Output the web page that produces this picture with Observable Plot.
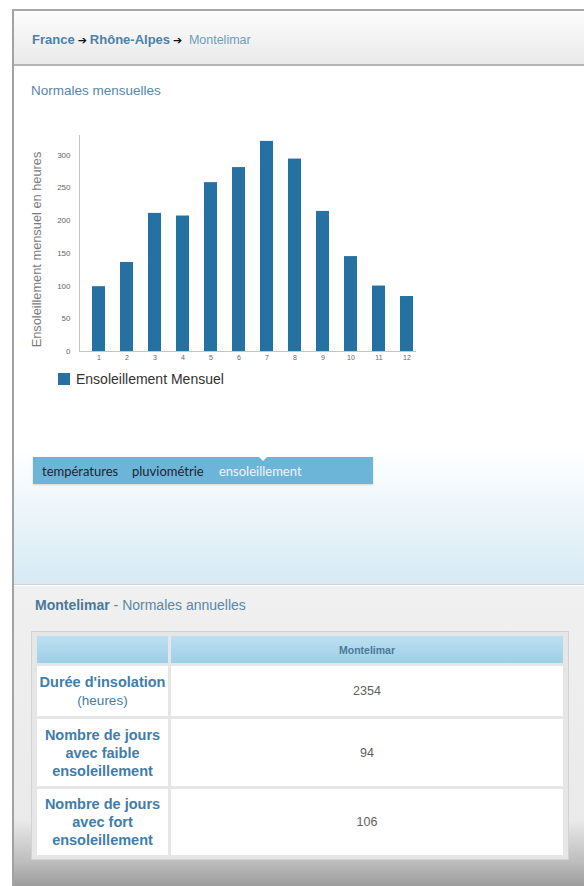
<!DOCTYPE html>
<html lang="fr">
<head>
<meta charset="utf-8">
<script src="https://cdn.jsdelivr.net/npm/d3@7"></script>
<script src="https://cdn.jsdelivr.net/npm/@observablehq/plot@0.6"></script>
<style>
  html, body { margin: 0; padding: 0; }
  body { width: 584px; height: 886px; position: relative; overflow: hidden; background: #fff;
         font-family: "Liberation Sans", Arial, sans-serif; }
  .abs { position: absolute; }
  #frame { left: 12px; top: 9px; right: 0; bottom: 0; border-left: 2px solid #a2a2a2; border-top: 2px solid #a8a8a8; }
  #header { left: 14px; top: 11px; right: 0; height: 53px; background: linear-gradient(#fdfdfd, #e9e9e9); border-bottom: 2px solid #b4b4b4; }
  #crumb { left: 32px; top: 32px; font-size: 13px; white-space: nowrap; }
  #crumb b { color: #4b81aa; }
  #crumb .arr { color: #111; font-family: "DejaVu Sans"; font-size: 11px; font-weight: bold; margin: 0 3px; }
  #crumb .cur { color: #6f9cbd; font-size: 12.5px; }
  #upper { left: 14px; top: 66px; right: 0; height: 518px; background: linear-gradient(#fff 0%, #fff 74%, #d6eaf4 100%); border-bottom: 1px solid #c9d3d8; }
  #sub { left: 31px; top: 83px; font-size: 13.5px; color: #5885a8; }
  #chart { left: 20px; top: 120px; }
  #chart svg { overflow: visible; }
  #legend { left: 58px; top: 371px; font-size: 14px; color: #333; display: flex; align-items: center; }
  #legend .sw { width: 12px; height: 12px; margin-right: 6px; }
  #tabs { left: 33px; top: 457px; width: 340px; height: 27px; background: #6db4d9; box-shadow: 0 1px 2px rgba(0,0,0,0.15); }
  #tabs span { position: absolute; top: 6px; font-family: Lato, sans-serif; font-size: 13px; color: #1a2630; }
  #tabs span.on { color: #eef7fc; }
  #tri { left: 259px; top: 457px; width: 0; height: 0; border-left: 4px solid transparent; border-right: 4px solid transparent; border-top: 4px solid #fff; }
  #lower { left: 14px; top: 586px; right: 0; bottom: 0; background: linear-gradient(#f0f0f0 0%, #eaeaea 78%, #bdbdbd 92%, #9c9c9c 100%); }
  #ltitle { left: 35px; top: 597px; font-size: 14px; color: #5a87a8; white-space: nowrap; }
  #ltitle b { color: #4c7899; }
  #tbl { left: 31px; top: 631px; border: 1px solid #d2d2d2; background: #e6e6e6; padding: 1px 2px; }
  table { border-collapse: separate; border-spacing: 3px; }
  td, th { padding: 0; text-align: center; }
  th { height: 27px; background: linear-gradient(#bde0f1, #9dcee7); color: #4b7a99; font-size: 10.5px; font-weight: bold; }
  td { background: #fff; }
  td.lab { width: 131px; color: #3e7dac; font-weight: bold; font-size: 14.5px; line-height: 18px; }
  td.lab .n { font-weight: normal; font-size: 13.5px; }
  td.val { width: 392px; color: #5e5e5e; font-size: 12.5px; }
</style>
</head>
<body>
<div id="frame" class="abs"></div>
<div id="header" class="abs"></div>
<div id="crumb" class="abs"></div>
<div id="upper" class="abs"></div>
<div id="sub" class="abs"></div>
<div id="chart" class="abs"></div>
<div id="legend" class="abs"></div>
<div id="tabs" class="abs"></div>
<div id="tri" class="abs"></div>
<div id="lower" class="abs"></div>
<div id="ltitle" class="abs"></div>
<div id="tbl" class="abs"></div>
<script>
// ---- data ----
const breadcrumb = ["France", "Rhône-Alpes", "Montelimar"];
const sectionTitle = "Normales mensuelles";
const months = ["1", "2", "3", "4", "5", "6", "7", "8", "9", "10", "11", "12"];
const sunshine = [99, 136, 211, 207, 258, 281, 321, 294, 214, 145, 100, 84];
const yTicks = [0, 50, 100, 150, 200, 250, 300];
const yLabel = "Ensoleillement mensuel en heures";
const seriesName = "Ensoleillement Mensuel";
const tabs = ["températures", "pluviométrie", "ensoleillement"];
const activeTab = "ensoleillement";
const station = "Montelimar";
const annualTitle = "Normales annuelles";
const rowLabels = [["Durée d'insolation", "(heures)"], ["Nombre de jours avec faible ensoleillement"], ["Nombre de jours avec fort ensoleillement"]];
const rowValues = [2354, 94, 106];

const barColor = "#2471a2";

// breadcrumb
document.getElementById("crumb").innerHTML =
  `<b>${breadcrumb[0]}</b><span class="arr">➔</span><b>${breadcrumb[1]}</b><span class="arr">➔</span> <span class="cur">${breadcrumb[2]}</span>`;
document.getElementById("sub").textContent = sectionTitle;

// chart
const data = months.map((m, i) => ({month: m, value: sunshine[i]}));
const chart = Plot.plot({
  width: 420,
  height: 250,
  marginLeft: 59,
  marginRight: 25,
  marginTop: 15,
  marginBottom: 19,
  style: {fontFamily: "'Liberation Sans', Arial, sans-serif", background: "transparent", color: "#666", overflow: "visible"},
  x: {type: "band", domain: months, paddingInner: 0.54, paddingOuter: 0.2, align: 0.85},
  y: {domain: [0, 330]},
  marks: [
    Plot.barY(data, {x: "month", y: "value", fill: barColor}),
    Plot.frame({anchor: "left", stroke: "#c4c4c4"}),
    Plot.frame({anchor: "bottom", stroke: "#c4c4c4"}),
    Plot.axisY(yTicks, {tickSize: 0, tickPadding: 9, fontSize: 8, label: null, fill: "#666"}),
    Plot.axisX({tickSize: 0, tickPadding: 4, fontSize: 7, label: null, fill: "#666"}),
    Plot.text([yLabel], {frameAnchor: "left", textAnchor: "middle", rotate: -90, dx: -43, dy: 6, fontSize: 12.8, fill: "#7a7a7a"})
  ]
});
document.getElementById("chart").appendChild(chart);

// legend
document.getElementById("legend").innerHTML = `<div class="sw" style="background:${barColor}"></div><span>${seriesName}</span>`;

// tabs
const tabX = [9, 99, 186];
document.getElementById("tabs").innerHTML = tabs.map((t, i) =>
  `<span class="${t === activeTab ? "on" : ""}" style="left:${tabX[i]}px">${t}</span>`).join("");

// lower title
document.getElementById("ltitle").innerHTML = `<b>${station}</b> - ${annualTitle}`;

// table
let html = `<table><tr><th></th><th>${station}</th></tr>`;
const rowH = [50, 67, 66];
rowLabels.forEach((lab, i) => {
  const label = lab.length > 1 ? `${lab[0]}<br><span class="n">${lab[1]}</span>` : lab[0];
  html += `<tr style="height:${rowH[i]}px"><td class="lab">${label}</td><td class="val">${rowValues[i]}</td></tr>`;
});
html += `</table>`;
document.getElementById("tbl").innerHTML = html;
</script>
</body>
</html>
